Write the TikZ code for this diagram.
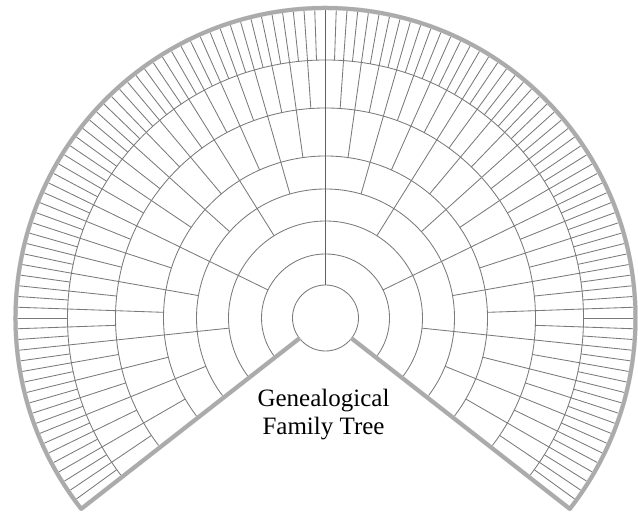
\documentclass[tikz,border=0pt]{standalone}
\usepackage{fontspec}
\setmainfont{Liberation Serif}
\begin{document}
\begin{tikzpicture}[x=1pt,y=1pt,
  gridline/.style={draw=black!52, line width=0.85pt},
  spine/.style={draw=black!62, line width=1.3pt},
  rim/.style={draw=black!33, line width=4pt, line join=round},
  rimshadow/.style={draw=black!13, line width=4.5pt, line join=round},
  title/.style={font=\fontsize{25}{29}\selectfont, anchor=base, text=black, inner sep=0pt}]
\useasboundingbox (0,0) rectangle (638,517);
\coordinate (O) at (325.5,199);
% ring arcs
\foreach \r in {64,97,129,162,210,258}{
  \draw[gridline] ([shift={(-38:\r)}]O) arc[start angle=-38,end angle=218,radius=\r];
}
\draw[gridline] (O) circle[radius=33];
% radial dividers
\foreach \ri/\ro/\n in {33/64/2,64/97/4,97/129/8,129/162/16,162/210/32,210/258/64,258/309/128}{
  \pgfmathsetmacro\st{256/\n}
  \pgfmathtruncatemacro\m{\n-1}
  \foreach \j in {1,...,\m}{
    \pgfmathsetmacro\a{-38+\j*\st}
    \draw[gridline] ([shift={(\a:\ri)}]O) -- ([shift={(\a:\ro)}]O);
  }
}
\draw[spine] ([shift={(90:33)}]O) -- ([shift={(90:308)}]O);
% rim with soft shadow
\draw[rimshadow, shift={(1,-1.8)}] ([shift={(218:33)}]O) -- ([shift={(218:310)}]O)
  arc[start angle=218,end angle=-38,radius=310] -- ([shift={(-38:33)}]O);
\draw[rim] ([shift={(218:33)}]O) -- ([shift={(218:310)}]O)
  arc[start angle=218,end angle=-38,radius=310] -- ([shift={(-38:33)}]O);
% title
\node[title] (t1) at (323.5,110) {Genealogical};
\node[title] (t2) at (323.5,82) {Family Tree};
\end{tikzpicture}
\end{document}
